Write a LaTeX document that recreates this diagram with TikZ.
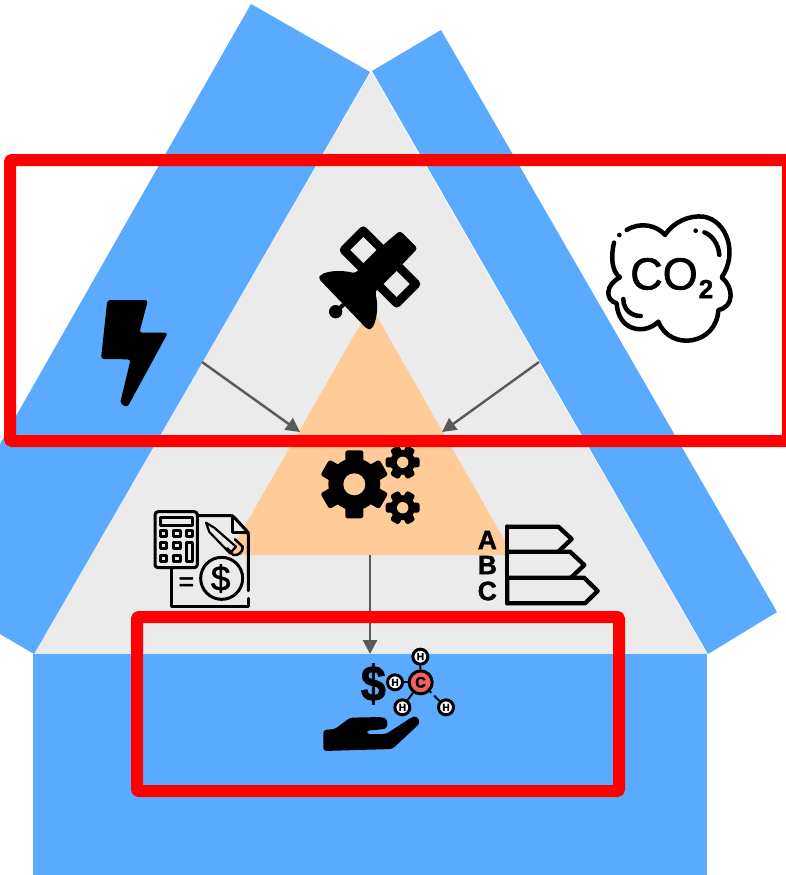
\documentclass[tikz,border=0pt]{standalone}
\usepackage{fontspec}
\setmainfont{Liberation Sans}
\newfontfamily\heavy[FakeBold=1.5]{Liberation Sans}
\newfontfamily\heavybf[FakeBold=1.5]{Liberation Sans Bold}
\usetikzlibrary{arrows.meta}
\definecolor{bandblue}{HTML}{5AAAFF}
\definecolor{coregray}{HTML}{EBEBEB}
\definecolor{coreorange}{HTML}{FFCC99}
\definecolor{arrowgray}{HTML}{595959}
\definecolor{carbon}{HTML}{F46060}
\tikzset{
  flow/.style={draw=arrowgray,line width=2.4pt,-{Triangle[length=14pt,width=14pt]}},
  frame/.style={draw=red,line width=12pt,line join=round,rounded corners=1pt},
  ink/.style={draw=black,line cap=round,line join=round},
  txt/.style={inner sep=0pt,text=black},
  atom/.style={draw=black,line width=3pt,fill=white,circle,inner sep=0pt,minimum size=15pt,font=\heavybf\fontsize{10}{10}\selectfont},
}
\newcommand{\mygear}[7]{% x y body outer half hole angles
  \fill (#1,#2) circle (#3);
  \foreach \a in {#7}{
    \fill[rounded corners=2.5pt,rotate around={\a:(#1,#2)}]
      ({#1-#5},#2) -- ({#1-#5},{#2-#4}) -- ({#1+#5},{#2-#4}) -- ({#1+#5},#2) -- cycle;
  }
  \fill[coreorange] (#1,#2) circle (#6);
}
\begin{document}
\begin{tikzpicture}[x=1pt,y=-1pt]
\useasboundingbox (0,0) rectangle (786,875);
\clip (0,0) rectangle (786,875);
% background shapes
\fill[coregray] (371,72) -- (707,654) -- (34,654) -- cycle;
\fill[bandblue] (251,4) -- (370,72) -- (34,654) -- (0,634) -- (0,444) -- cycle;
\fill[bandblue] (372,71) -- (441,30) -- (777,612) -- (708,654) -- cycle;
\fill[bandblue] (33,654) rectangle (707,875);
\fill[coreorange] (371,306) -- (513,555) -- (228,555) -- cycle;
% connector ends
\coordinate (left) at (202,362);
\coordinate (right) at (539,362);
\coordinate (leftin) at (300,432);
\coordinate (rightin) at (442,432);
\coordinate (down) at (370,555);
\coordinate (downin) at (370,654);
\draw[flow] (left) -- (leftin);
\draw[flow] (right) -- (rightin);
\draw[flow] (down) -- (downin);
% lightning
\begin{scope}[shift={(90,290)},scale=1/3]
  \fill[rounded corners=3pt] (52,30) -- (174,30) -- (148,128) -- (234,128) -- (112,352) -- (90,340) -- (122,208) -- (33,207) -- cycle;
\end{scope}
% satellite
\begin{scope}[shift={(290,210)},scale=1/3]
  \draw[ink,line width=8.5pt] (220,62) -- (278,120) -- (220,178) -- (162,120) -- cycle;
  \draw[ink,line width=8.5pt] (320,164) -- (378,222) -- (320,280) -- (262,222) -- cycle;
  \fill[rounded corners=3pt] (330,62) -- (383,115) -- (340,160) -- (255,245) .. controls (265,285) and (262,325) .. (245,358) -- (232,358) -- (85,205) -- (92,194) .. controls (125,180) and (165,182) .. (195,190) -- (285,100) -- cycle;
  \fill (137,305) circle (20);
  \draw[line width=4pt] (137,305) -- (165,280);
\end{scope}
% CO2 cloud
\begin{scope}[shift={(590,200)},scale=1/3]
  \draw[ink,line width=4.5pt] (110,90) .. controls (150,65) and (200,75) .. (225,105)
    .. controls (250,65) and (300,45) .. (340,50) .. controls (410,60) and (445,160) .. (395,232)
    .. controls (430,260) and (435,320) .. (385,330) .. controls (380,435) and (240,455) .. (205,365)
    .. controls (165,405) and (85,395) .. (80,310) .. controls (45,300) and (45,255) .. (90,232)
    .. controls (65,215) and (62,170) .. (72,128);
  \draw[ink,line width=4.5pt] (343,97) .. controls (365,105) and (385,130) .. (388,165);
  \draw[ink,line width=4.5pt] (100,297) .. controls (100,330) and (125,348) .. (152,348);
  \fill (88,105) circle (7);
  \fill (317,92) circle (7);
  \node[txt,font=\heavy\fontsize{45}{45}\selectfont] (co) at (222,222) {CO};
  \node[txt,font=\heavybf\fontsize{26}{26}\selectfont] (two) at (348,267) {2};
\end{scope}
% gears
\mygear{354.3}{484.3}{26}{34}{9}{11}{0,60,120,180,240,300}
\mygear{402.7}{462.3}{12.5}{17}{5}{5.7}{30,90,150,210,270,330}
\mygear{402.7}{507.7}{12.5}{17}{5}{5.7}{30,90,150,210,270,330}
% bill with calculator
\begin{scope}[shift={(140,500)},scale=1/3]
  \draw[ink,line width=3pt,rounded corners=2pt] (172,47) -- (278,47) -- (325,98) -- (325,272);
  \draw[ink,line width=3pt] (325,295) -- (325,318) -- (95,318) -- (95,203);
  \draw[ink,line width=3pt] (278,47) -- (278,98) -- (325,98);
  \draw[ink,line width=3pt,rounded corners=3pt] (45,35) rectangle (172,203);
  \draw[ink,line width=3pt] (60,52) rectangle (158,75);
  \foreach \x in {60,100,138}{\draw[ink,line width=3pt] (\x,90) rectangle ++(20,18);}
  \foreach \x in {60,100}{
    \draw[ink,line width=3pt] (\x,127) rectangle ++(20,18);
    \draw[ink,line width=3pt] (\x,165) rectangle ++(20,18);
  }
  \draw[ink,line width=3pt] (138,127) rectangle (158,183);
  \draw[ink,line width=2.2pt] (198,68) -- (224,84) -- (288,140) -- (270,160) -- (208,96) -- cycle;
  \draw[ink,line width=2.5pt] (285,118) -- (308,140) .. controls (310,155) and (295,168) .. (280,165) -- (262,145);
  \draw[ink,line width=3pt] (245,235) circle (63);
  \node[txt,font=\heavy\fontsize{35}{35}\selectfont] (dollar) at (242,236) {\$};
  \node[txt,font=\heavy\fontsize{27}{27}\selectfont] (equal) at (139,252) {=};
\end{scope}
% energy labels
\begin{scope}[shift={(470,515)},scale=1/3]
  \draw[ink,line width=4.3pt] (112,35) -- (265,35) -- (305,72) -- (265,110);
  \draw[ink,line width=4.3pt] (112,110) -- (300,110) -- (343,150) -- (303,188);
  \draw[ink,line width=4.3pt] (112,188) -- (342,188) -- (383,228) -- (345,265) -- (112,265) -- cycle;
  \draw[ink,line width=4.3pt] (112,35) -- (112,265);
  \node[txt,font=\heavybf\fontsize{26.5}{26.5}\selectfont] (ga) at (52,75) {A};
  \node[txt,font=\heavybf\fontsize{26.5}{26.5}\selectfont] (gb) at (52,150) {B};
  \node[txt,font=\heavybf\fontsize{26.5}{26.5}\selectfont] (gc) at (52,228) {C};
\end{scope}
% hand, dollar and molecule
\begin{scope}[shift={(315,640)},scale=1/3]
  \fill[rounded corners=3pt] (25,270) -- (60,267) -- (105,233) -- (200,231) .. controls (220,238) and (220,264) .. (200,268) -- (155,272) -- (155,282) -- (213,282) -- (288,233) .. controls (307,226) and (318,245) .. (304,260) -- (232,327) -- (25,333) -- cycle;
  \node[txt,xscale=.9,font=\heavybf\fontsize{50}{50}\selectfont] (usd) at (175,132) {\$};
  \node[atom,fill=carbon,minimum size=23pt,font=\heavybf\fontsize{15}{15}\selectfont] (cc) at (317,127) {C};
  \node[atom] (h1) at (316,50) {H};
  \node[atom] (h2) at (240,127) {H};
  \node[atom] (h3) at (262,202) {H};
  \node[atom] (h4) at (393,202) {H};
  \draw[line width=2pt] (cc) -- (h1);
  \draw[line width=2pt] (cc) -- (h2);
  \draw[line width=2pt] (cc) -- (h3);
  \draw[line width=2pt,dash pattern=on 2pt off 4pt on 9pt off 0pt] (cc) -- (h4);
\end{scope}
% red frames
\draw[frame] (10,160) -- (788,160) -- (788,441) -- (10,441) -- cycle;
\draw[frame] (137,617) -- (619,617) -- (619,791) -- (137,791) -- cycle;
\end{tikzpicture}
\end{document}
